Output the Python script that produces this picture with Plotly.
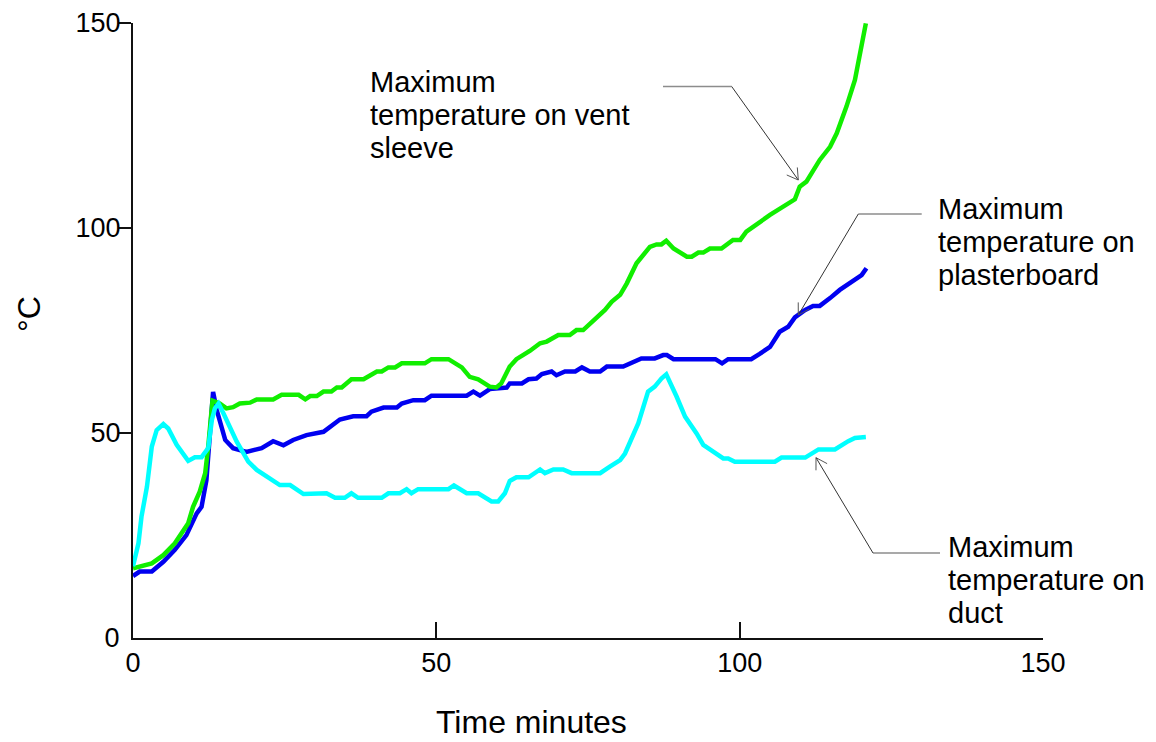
import math
import plotly.graph_objects as go

# ---------------- data ----------------
plaster_t = [0, 1.1, 3.1, 5.0, 6.9, 8.8, 10.5, 11.3, 12.1, 12.7, 13.2, 13.8, 15.2, 16.5, 17.9, 18.7,
             21.2, 23.1, 24.8, 26.4, 28.6, 29.7, 31.4, 34.1, 36.3, 38.5, 39.3, 41.3, 43.5, 44.3, 46.2,
             48.1, 49.2, 55.0, 56.1, 57.2, 58.8, 61.6, 62.1, 64.1, 65.2, 66.5, 67.4, 69.0, 69.8, 71.2,
             72.9, 74.0, 75.3, 77.0, 78.1, 80.8, 82.2, 83.8, 86.0, 87.4, 88.0, 89.1, 96.0, 97.1, 98.1,
             101.9, 103.3, 105.0, 106.6, 108.0, 109.1, 110.8, 112.1, 113.2, 114.9, 116.5, 120.1, 120.9]
plaster_v = [15.1, 16.2, 16.2, 18.6, 21.5, 25.1, 30.4, 32.0, 38.5, 49.0, 60.0, 55.6, 48.3, 46.3, 45.9, 45.4,
             46.3, 48.0, 47.0, 48.3, 49.5, 49.9, 50.3, 53.3, 54.1, 54.1, 55.2, 56.2, 56.2, 57.2, 58.0,
             58.0, 59.1, 59.1, 60.1, 59.1, 60.7, 61.1, 62.1, 62.1, 63.1, 63.3, 64.4, 65.0, 64.1, 65.0,
             65.0, 66.0, 65.0, 65.0, 66.2, 66.2, 67.2, 68.2, 68.2, 69.0, 69.0, 68.0, 68.0, 67.0, 68.0,
             68.0, 69.3, 71.0, 74.7, 75.9, 78.2, 80.0, 81.0, 81.0, 82.9, 84.9, 88.5, 90.2]

vent_t = [0, 2.0, 3.1, 5.0, 6.9, 9.1, 9.9, 11.0, 11.9, 12.4, 13.1, 14.3, 15.4, 16.5, 17.6, 19.3, 20.4,
          23.1, 24.5, 27.3, 28.4, 29.2, 30.3, 31.4, 32.7, 33.6, 34.4, 36.0, 38.0, 40.2, 41.0, 42.1,
          43.2, 44.3, 48.1, 49.2, 52.0, 54.2, 55.5, 56.9, 58.8, 59.9, 60.7, 62.1, 63.2, 65.4, 67.1,
          68.2, 70.1, 72.0, 73.1, 74.2, 76.2, 77.8, 78.9, 80.3, 81.4, 83.0, 85.2, 86.3, 87.1, 87.9,
          89.1, 91.3, 92.1, 93.2, 94.0, 95.1, 97.0, 98.9, 100.1, 101.1, 105.0, 109.1, 109.9, 111.0,
          113.2, 114.9, 116.0, 117.6, 119.0, 119.8, 120.8]
vent_v = [17.0, 17.8, 18.2, 20.2, 23.1, 28.0, 32.0, 35.7, 40.2, 46.7, 57.9, 57.2, 56.0, 56.3, 57.2, 57.4, 58.2,
          58.2, 59.3, 59.3, 58.2, 59.0, 59.0, 60.1, 60.1, 61.1, 61.1, 63.1, 63.1, 65.0, 65.0, 66.0,
          66.0, 67.0, 67.0, 68.0, 68.0, 66.0, 63.7, 63.1, 61.3, 61.1, 62.1, 66.2, 68.0, 70.0, 71.9,
          72.3, 73.9, 73.9, 75.1, 75.1, 78.0, 80.0, 82.0, 83.7, 86.5, 91.4, 95.4, 96.0, 96.0, 96.9,
          95.0, 93.0, 93.0, 94.0, 94.0, 95.0, 95.0, 97.1, 97.1, 99.1, 103.2, 107.0, 110.1, 111.3,
          116.6, 119.8, 123.1, 129.6, 136.1, 142.6, 149.9]

duct_t = [0, 0.9, 1.4, 2.3, 3.1, 3.9, 5.0, 5.8, 7.2, 9.1, 10.2, 11.3, 12.4, 13.0, 13.5, 14.1, 14.9,
          17.1, 19.0, 20.4, 24.2, 25.9, 28.1, 31.9, 33.3, 34.9, 36.0, 37.1, 41.0, 42.1, 44.0, 45.1,
          45.9, 47.0, 52.0, 52.9, 55.0, 56.9, 59.1, 60.2, 61.3, 62.1, 63.2, 65.2, 67.1, 67.9, 69.3,
          70.9, 72.3, 77.0, 78.6, 80.3, 81.1, 82.2, 83.3, 84.9, 86.0, 87.1, 87.9, 89.6, 91.0, 92.9,
          94.0, 95.7, 97.3, 98.1, 99.2, 105.8, 106.9, 110.8, 113.0, 115.7, 116.5, 117.9, 119.0, 120.8]
duct_v = [17.5, 23.1, 29.6, 36.9, 46.7, 50.7, 52.2, 51.1, 47.1, 43.2, 44.1, 44.1, 46.3, 53.2, 56.0, 57.2, 54.8,
          47.9, 43.0, 41.0, 37.3, 37.3, 35.1, 35.3, 34.2, 34.2, 35.3, 34.2, 34.2, 35.3, 35.3, 36.3,
          35.3, 36.3, 36.3, 37.2, 35.3, 35.3, 33.3, 33.3, 35.3, 38.3, 39.2, 39.2, 41.1, 40.2, 41.1,
          41.1, 40.2, 40.2, 41.8, 43.4, 45.0, 48.7, 52.4, 60.1, 61.3, 63.3, 64.3, 58.9, 54.0, 49.9,
          47.1, 45.4, 43.8, 43.8, 43.0, 43.0, 44.0, 44.0, 46.0, 46.0, 46.8, 48.0, 48.8, 49.0]

x_ticks = [0, 50, 100, 150]
y_ticks = [50, 100, 150]
x_title = "Time minutes"
y_title = "°C"
label_vent = ["Maximum", "temperature on vent", "sleeve"]
label_plaster = ["Maximum", "temperature on", "plasterboard"]
label_duct = ["Maximum", "temperature on", "duct"]

# ---------------- layout helpers ----------------
W, H = 1156, 742
PL, PR, PT, PB = 133, 1043, 23, 638
XMAX, YMAX = 150, 150
FONT = "Liberation Sans, Arial, sans-serif"


def dx(px):
    return (px - PL) / (PR - PL) * XMAX


def dy(py):
    return (PB - py) / (PB - PT) * YMAX


def paper_x(px):
    return (px - PL) / (PR - PL)


def paper_y(py):
    return (PB - py) / (PB - PT)


fig = go.Figure()
fig.add_trace(go.Scatter(x=plaster_t, y=plaster_v, mode="lines",
                         line=dict(color="#0000f0", width=4.5), name="plasterboard"))
fig.add_trace(go.Scatter(x=vent_t, y=vent_v, mode="lines",
                         line=dict(color="#11ee00", width=4.5), name="vent sleeve"))
fig.add_trace(go.Scatter(x=duct_t, y=duct_v, mode="lines", yaxis="y2",
                         line=dict(color="#00ffff", width=4.5), name="duct"))

shapes = []
annotations = []


def leader(h_end, elbow, tip):
    # horizontal grey segment
    shapes.append(dict(type="line", xref="x", yref="y",
                       x0=dx(h_end[0]), y0=dy(h_end[1]), x1=dx(elbow[0]), y1=dy(elbow[1]),
                       line=dict(color="#8c8c8c", width=1.5), layer="above"))
    # diagonal
    shapes.append(dict(type="line", xref="x", yref="y",
                       x0=dx(elbow[0]), y0=dy(elbow[1]), x1=dx(tip[0]), y1=dy(tip[1]),
                       line=dict(color="#333333", width=1), layer="above"))
    # open arrow head
    ang = math.atan2(elbow[1] - tip[1], elbow[0] - tip[0])
    L = 12.6
    pts = []
    for s in (-1, 1):
        a = ang + s * math.radians(31)
        pts.append((tip[0] + L * math.cos(a), tip[1] + L * math.sin(a)))
    path = "M {} {} L {} {} L {} {}".format(dx(pts[0][0]), dy(pts[0][1]), dx(tip[0]), dy(tip[1]),
                                           dx(pts[1][0]), dy(pts[1][1]))
    shapes.append(dict(type="path", xref="x", yref="y", path=path,
                       line=dict(color="#555555", width=1), layer="above"))


leader((663, 86.5), (731.7, 86.5), (798.3, 180))
leader((921.7, 214), (858.3, 214), (798.3, 315))
leader((940, 553), (873, 553), (816, 457.7))


def text_block(lines, left, baselines, size=29):
    for t, b in zip(lines, baselines):
        annotations.append(dict(text=t, xref="paper", yref="paper",
                                x=paper_x(left), y=paper_y(b - 0.3465 * size),
                                xanchor="left", yanchor="middle", showarrow=False,
                                font=dict(family=FONT, size=size, color="black")))


text_block(label_vent, 368, [92, 125, 158])
text_block(label_plaster, 936, [219, 252, 285])
text_block(label_duct, 946, [557, 590, 623])

annotations.append(dict(text=x_title, xref="paper", yref="paper",
                        x=paper_x(531), y=paper_y(722), xanchor="center", yanchor="middle",
                        showarrow=False, font=dict(family=FONT, size=32, color="black")))
annotations.append(dict(text=y_title, xref="paper", yref="paper",
                        x=paper_x(29), y=paper_y(314), xanchor="center", yanchor="middle",
                        textangle=-90, showarrow=False,
                        font=dict(family=FONT, size=32, color="black")))

fig.update_layout(
    width=W, height=H, autosize=False,
    margin=dict(l=PL, r=W - PR, t=PT, b=H - PB, pad=0),
    paper_bgcolor="white", plot_bgcolor="white",
    showlegend=False,
    font=dict(family=FONT, color="black"),
    xaxis=dict(range=[0, XMAX], tickvals=x_ticks, ticks="inside", ticklen=16, tickwidth=1.5,
               tickcolor="#111", showline=True, linecolor="#111", linewidth=2, automargin=False,
               showgrid=False, zeroline=False, tickfont=dict(family=FONT, size=27, color="black"),
               fixedrange=True),
    yaxis=dict(range=[0, YMAX], tickvals=y_ticks, ticks="outside", ticklen=13, tickwidth=1.5,
               tickcolor="#111", showline=True, linecolor="#111", linewidth=2, automargin=False,
               showgrid=False, zeroline=False, tickfont=dict(family=FONT, size=27, color="black"),
               ticklabelstandoff=-8, fixedrange=True),
    yaxis2=dict(range=[0, YMAX], overlaying="y", side="left", tickvals=[0], ticks="outside",
                ticklen=13, tickcolor="rgba(0,0,0,0)", showline=False, showgrid=False,
                automargin=False, zeroline=False, ticklabelstandoff=-6,
                tickfont=dict(family=FONT, size=27, color="black"), fixedrange=True),
    shapes=shapes,
    annotations=annotations,
)

fig.write_html("out.html")
